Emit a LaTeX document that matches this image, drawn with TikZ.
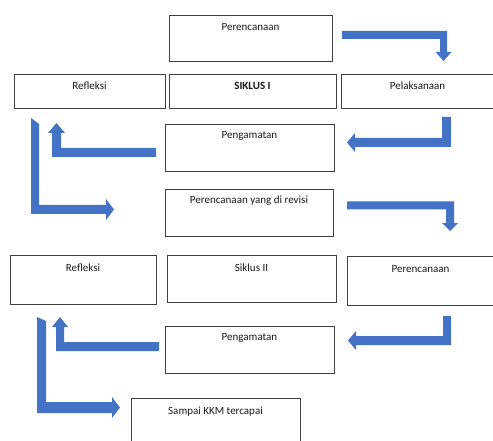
\documentclass[tikz,border=0pt]{standalone}
\usepackage{fontspec}
\setmainfont{Carlito}
\definecolor{arrowblue}{HTML}{4472C4}
\definecolor{boxline}{HTML}{404040}
\begin{document}
\begin{tikzpicture}[x=1pt,y=-1pt,
  box/.style={draw=boxline,line width=0.9pt,inner sep=0pt,rectangle},
  txt/.style={inner sep=0pt,font=\fontsize{11}{13}\selectfont,text=black!90},
  blockarrow/.style={fill=arrowblue,draw=none}]
\useasboundingbox (0,0) rectangle (493,441);
% boxes
\node[box,minimum width=163pt,minimum height=46pt] (p1) at (250.5,38) {};
\node[box,minimum width=151pt,minimum height=34pt] (r1) at (89.5,91) {};
\node[box,minimum width=167pt,minimum height=34pt] (s1) at (252.5,91) {};
\node[box,minimum width=153pt,minimum height=34pt] (pl) at (417.5,91) {};
\node[box,minimum width=169pt,minimum height=47pt] (g1) at (249.5,147.5) {};
\node[box,minimum width=168pt,minimum height=47pt] (rv) at (249,212.5) {};
\node[box,minimum width=146pt,minimum height=49pt] (r2) at (83,279.5) {};
\node[box,minimum width=169pt,minimum height=47pt] (s2) at (251.5,278.5) {};
\node[box,minimum width=147pt,minimum height=49pt] (p2) at (420.5,280.5) {};
\node[box,minimum width=169pt,minimum height=47pt] (g2) at (249.5,349.5) {};
\node[box,minimum width=169pt,minimum height=52pt] (kkm) at (215.5,424) {};
% texts
\node[txt] (p1t) at ([yshift=-12pt]p1.north) {Perencanaan};
\node[txt] (r1t) at ([yshift=-12pt]r1.north) {Refleksi};
\node[txt] (s1t) at ([yshift=-12pt]s1.north) {\bfseries SIKLUS I};
\node[txt] (plt) at ([yshift=-12pt]pl.north) {Pelaksanaan};
\node[txt] (g1t) at ([yshift=-12pt]g1.north) {Pengamatan};
\node[txt] (rvt) at ([yshift=-12pt]rv.north) {Perencanaan yang di revisi};
\node[txt] (r2t) at ([yshift=-13pt]r2.north) {Refleksi};
\node[txt] (s2t) at ([yshift=-13pt]s2.north) {Siklus II};
\node[txt] (p2t) at ([yshift=-13pt]p2.north) {Perencanaan};
\node[txt] (g2t) at ([yshift=-12pt]g2.north) {Pengamatan};
\node[txt] (kkmt) at ([yshift=-14pt]kkm.north) {Sampai KKM tercapai};
% block arrows
\fill[blockarrow] (342,31) -- (447,31) -- (447,52) -- (451.5,52) -- (443.5,61) -- (435.5,52) -- (440,52) -- (440,39) -- (342,39) -- cycle;
\fill[blockarrow] (442,117) -- (451,117) -- (451,147) -- (355,147) -- (355,152) -- (347,142.5) -- (355,133) -- (355,138) -- (442,138) -- cycle;
\fill[blockarrow] (156,148) -- (61,148) -- (61,133) -- (65,133) -- (56.5,123) -- (48,133) -- (52,133) -- (52,157) -- (156,157) -- cycle;
\fill[blockarrow] (31,118) -- (39,124) -- (39,205) -- (106,205) -- (106,199) -- (114,209.5) -- (106,220) -- (106,214) -- (31,214) -- cycle;
\fill[blockarrow] (347,201.5) -- (454,201.5) -- (454,223) -- (458,223) -- (450,231) -- (442,223) -- (446,223) -- (446,209.5) -- (347,209.5) -- cycle;
\fill[blockarrow] (443,316) -- (451,316) -- (451,345) -- (356,345) -- (356,350) -- (348,340.5) -- (356,331) -- (356,336) -- (443,336) -- cycle;
\fill[blockarrow] (159,342) -- (64,342) -- (64,327) -- (68,327) -- (60,317) -- (52,327) -- (56,327) -- (56,351) -- (159,351) -- cycle;
\fill[blockarrow] (37,317) -- (46,321) -- (46,402) -- (112,402) -- (112,397) -- (120,407.5) -- (112,418) -- (112,413) -- (37,413) -- cycle;
\end{tikzpicture}
\end{document}
